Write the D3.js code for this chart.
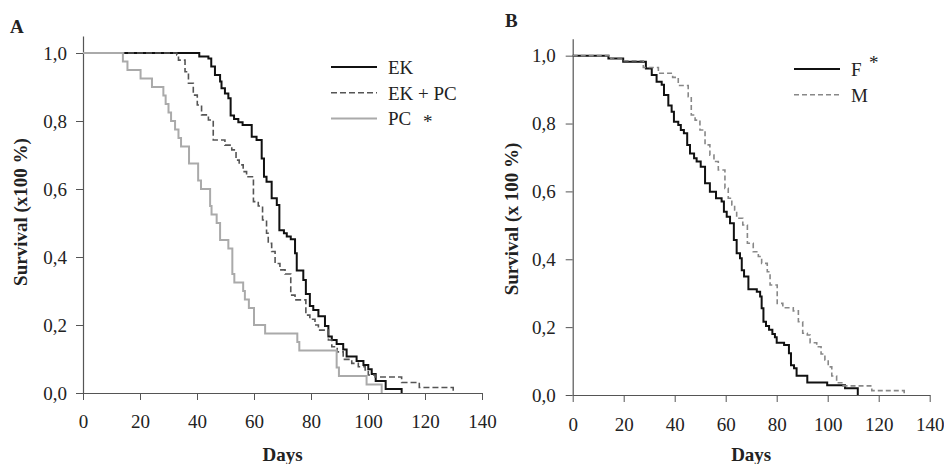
<!DOCTYPE html>
<html lang="en">
<head>
<meta charset="UTF-8">
<title>Survival curves</title>
<script src="https://cdn.jsdelivr.net/npm/d3@7/dist/d3.min.js"></script>
<style>
    body { margin: 0; background: #fff; }
    svg text { font-family: "Liberation Serif", "Times New Roman", serif; fill: #222; }
    .tick text { font-size: 19px; }
    .axis path, .axis line { stroke: #555; }
    .title { font-weight: 700; font-size: 19px; }
    .legend text { font-size: 19px; }
</style>
</head>
<body>
<div id="chart"></div>
<script>
"use strict";

// step points: [day, survival after the drop]
var ekSteps = [[40.8, 0.99], [44, 0.984], [45, 0.96], [46.3, 0.935], [48.1, 0.916], [48.6, 0.896], [49.8, 0.881],
    [51, 0.867], [51.8, 0.816], [53, 0.806], [54.5, 0.796], [56, 0.788], [59.2, 0.754], [60.9, 0.744], [62.7, 0.69],
    [63.5, 0.636], [64.4, 0.621], [66.2, 0.573], [68, 0.553], [68.9, 0.479], [70.5, 0.47], [71.5, 0.46], [72.9, 0.452],
    [74.4, 0.411], [75, 0.36], [77.3, 0.332], [78.2, 0.291], [79.6, 0.256], [80.8, 0.244], [82.6, 0.226], [84.9, 0.197],
    [86.1, 0.166], [87.3, 0.156], [89, 0.144], [91.3, 0.128], [92.5, 0.107], [96, 0.094], [98.4, 0.082], [100.1, 0.07],
    [101.3, 0.056], [102.7, 0.035], [106.2, 0.012], [111.8, 0]];

var ekPcSteps = [[32.9, 0.994], [33.5, 0.979], [35.8, 0.945], [37, 0.911], [38.7, 0.876], [40.1, 0.847], [41.6, 0.818],
    [44, 0.803], [45.7, 0.744], [49.8, 0.729], [52.2, 0.715], [53.7, 0.685], [54.8, 0.671], [56.2, 0.651], [57.4, 0.636],
    [59.8, 0.563], [61.5, 0.55], [63, 0.509], [64.4, 0.47], [65, 0.44], [66.2, 0.416], [67.4, 0.381], [69.1, 0.362],
    [70.9, 0.35], [72.9, 0.288], [74.4, 0.274], [78.2, 0.229], [79.6, 0.217], [81.4, 0.2], [82.6, 0.185], [86.1, 0.156],
    [87.3, 0.136], [89.2, 0.121], [91.3, 0.099], [94.3, 0.087], [96.6, 0.077], [99, 0.068], [100.1, 0.053],
    [102.5, 0.047], [111.8, 0.031], [118, 0.016], [129.9, 0]];

var pcSteps = [[14, 0.975], [15.6, 0.95], [20.2, 0.925], [24.2, 0.9], [28.2, 0.875], [29, 0.85], [30, 0.825],
    [30.9, 0.8], [32.3, 0.775], [33.5, 0.75], [34.4, 0.725], [37.2, 0.675], [40.4, 0.625], [41.4, 0.6], [44.6, 0.55],
    [45.1, 0.525], [46.9, 0.5], [48.1, 0.45], [51, 0.425], [52.4, 0.35], [53.1, 0.325], [56.2, 0.3], [56.8, 0.275],
    [58.2, 0.25], [60, 0.2], [63.9, 0.175], [75.2, 0.15], [75.9, 0.125], [89, 0.075], [89.8, 0.05], [99.5, 0.025],
    [104.8, 0]];

var fSteps = [[14, 0.992], [19.8, 0.982], [28.7, 0.962], [31, 0.943], [32.9, 0.923], [34.9, 0.914], [35.8, 0.884],
    [37.5, 0.853], [38.8, 0.835], [39.7, 0.805], [41.4, 0.796], [42.4, 0.781], [43.6, 0.771], [44.9, 0.737], [46, 0.712],
    [47.6, 0.698], [48.6, 0.688], [50.2, 0.673], [51.9, 0.624], [53.8, 0.599], [56.2, 0.58], [58.4, 0.57], [59.3, 0.54],
    [60.4, 0.525], [61.7, 0.506], [63.2, 0.457], [64.3, 0.418], [65.6, 0.403], [66.3, 0.368], [67.2, 0.349],
    [68.9, 0.312], [72.2, 0.304], [73.5, 0.29], [74.1, 0.256], [74.8, 0.216], [75.8, 0.203], [77, 0.192], [78.3, 0.18],
    [79.3, 0.17], [80, 0.154], [82.9, 0.147], [84.8, 0.123], [85.6, 0.088], [86.8, 0.079], [87.8, 0.057], [92, 0.037],
    [99.8, 0.029], [106.8, 0.02], [111.8, 0]];

var mSteps = [[15, 0.99], [19.8, 0.985], [27.7, 0.965], [33.6, 0.948], [39.2, 0.936], [41.4, 0.912], [45.3, 0.879],
    [46.5, 0.825], [48, 0.81], [49.9, 0.781], [51.9, 0.737], [53.8, 0.707], [55.4, 0.688], [57.1, 0.663], [59.7, 0.609],
    [61, 0.58], [62.4, 0.56], [63.5, 0.545], [64.3, 0.521], [66.7, 0.501], [68.5, 0.447], [70.8, 0.422], [72.8, 0.408],
    [74.1, 0.388], [76.3, 0.363], [77.4, 0.324], [80.2, 0.27], [82.4, 0.257], [86.5, 0.248], [88.5, 0.216],
    [90.2, 0.182], [92, 0.177], [93.1, 0.154], [95.7, 0.142], [97.4, 0.121], [98.9, 0.103], [100.2, 0.083],
    [101.6, 0.056], [103.5, 0.036], [105.9, 0.027], [117.3, 0.013], [130, 0]];

var dayTicks = [0, 20, 40, 60, 80, 100, 120, 140];
var survTicks = [0, 0.2, 0.4, 0.6, 0.8, 1.0];

var svg = d3.select('#chart')
    .append('svg')
    .attr('width', 944)
    .attr('height', 464);

function drawPanel(p) {

    var x = d3.scaleLinear().domain([0, 140]).range([p.left, p.right]);
    var y = d3.scaleLinear().domain([0, 1.05]).range([p.bottom, p.top]);

    var g = svg.append('g');

    g.append('g')
        .attr('class', 'axis')
        .attr('transform', 'translate(0,' + p.bottom + ')')
        .call(d3.axisBottom(x).tickValues(dayTicks).tickSizeInner(7).tickSizeOuter(0).tickPadding(p.xPad));

    g.append('g')
        .attr('class', 'axis')
        .attr('transform', 'translate(' + p.left + ',0)')
        .call(d3.axisLeft(y).tickValues(survTicks).tickSizeInner(7).tickSizeOuter(0).tickPadding(p.yPad)
            .tickFormat(function (d) { return d3.format('.1f')(d).replace('.', ','); }));

    g.selectAll('.axis path').attr('stroke-width', 1.2);

    var line = d3.line()
        .x(function (d) { return x(d[0]); })
        .y(function (d) { return y(d[1]); })
        .curve(d3.curveStepAfter);

    p.series.forEach(function (s) {
        g.append('path')
            .datum([[0, 1]].concat(s.steps))
            .attr('d', line)
            .attr('fill', 'none')
            .attr('stroke', s.color)
            .attr('stroke-width', s.width)
            .attr('stroke-dasharray', s.dash || null);
    });

    // panel letter and axis titles
    g.append('text').attr('class', 'title').attr('x', p.letterX).attr('y', p.letterY).text(p.letter);

    g.append('text')
        .attr('class', 'title')
        .attr('text-anchor', 'middle')
        .attr('x', (p.left + p.right) / 2)
        .attr('y', 461)
        .text('Days');

    g.append('text')
        .attr('class', 'title')
        .attr('text-anchor', 'middle')
        .attr('transform', 'translate(' + p.yTitleX + ',' + p.yTitleY + ') rotate(-90)')
        .text(p.yTitle);

    // legend
    var lg = g.append('g').attr('class', 'legend');
    p.series.forEach(function (s, i) {
        var ly = p.legendY + i * 25.7;
        lg.append('line')
            .attr('x1', p.legendX).attr('x2', p.legendX + 46)
            .attr('y1', ly).attr('y2', ly)
            .attr('stroke', s.color)
            .attr('stroke-width', s.width)
            .attr('stroke-dasharray', s.dash || null);
        lg.append('text')
            .attr('x', p.legendX + 57)
            .attr('y', ly + 7)
            .text(s.name);
        if (s.star) {
            lg.append('text')
                .attr('x', p.legendX + 57 + s.star[0])
                .attr('y', ly + s.star[1])
                .attr('font-size', '18px')
                .text('*');
        }
    });
}

drawPanel({
    letter: 'A', letterX: 10, letterY: 33,
    left: 83, right: 482, top: 36, bottom: 393,
    xPad: 15, yPad: 9,
    yTitle: 'Survival (x100 %)', yTitleX: 27, yTitleY: 212,
    legendX: 331, legendY: 67,
    series: [
        { name: 'EK', steps: ekSteps, color: '#111', width: 2 },
        { name: 'EK + PC', steps: ekPcSteps, color: '#555', width: 1.6, dash: '6,3' },
        { name: 'PC', steps: pcSteps, color: '#aaa', width: 2, star: [35, 10] }
    ]
});

drawPanel({
    letter: 'B', letterX: 505, letterY: 27,
    left: 572.7, right: 929.7, top: 38.7, bottom: 395,
    xPad: 16, yPad: 10,
    yTitle: 'Survival (x 100 %)', yTitleX: 518, yTitleY: 219,
    legendX: 794, legendY: 69,
    series: [
        { name: 'F', steps: fSteps, color: '#111', width: 2, star: [18, 0] },
        { name: 'M', steps: mSteps, color: '#888', width: 1.6, dash: '5,3' }
    ]
});
</script>
</body>
</html>
